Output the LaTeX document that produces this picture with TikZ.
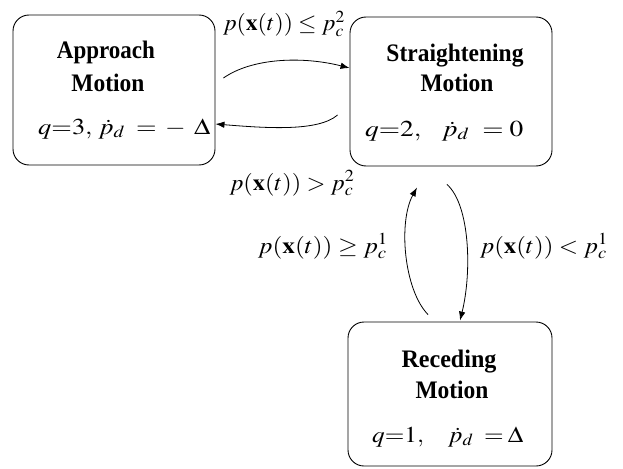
\documentclass[tikz,border=0pt]{standalone}
\usepackage{mathptmx}
\usepackage{fontspec}
\setmainfont{Liberation Serif}
\usetikzlibrary{arrows.meta}

% text set to a given width and stretched 1.2 times in height
\newcommand{\fitbox}[2]{\resizebox{#1}{1.2\height}{#2}}

\tikzset{
  statebox/.style={draw, line width=0.9pt, rounded corners=16pt, inner sep=0pt},
  titletext/.style={anchor=base, inner sep=0pt, font=\fontsize{21}{24}\selectfont\bfseries},
  eqtext/.style={anchor=base west, inner sep=0pt, font=\fontsize{19}{22}\selectfont},
  guard/.style={anchor=base, inner sep=0pt, font=\fontsize{19}{22}\selectfont},
  trans/.style={line width=0.8pt, -{Latex[length=9pt,width=6.5pt]}}
}

\begin{document}
\begin{tikzpicture}[x=1pt, y=-1pt]
  \useasboundingbox (0,0) rectangle (623,468);

  % the three motion states
  \node[statebox, minimum width=202pt, minimum height=150pt] (A) at (114,90) {};
  \node[statebox, minimum width=202pt, minimum height=149pt] (S) at (451,91.5) {};
  \node[statebox, minimum width=204pt, minimum height=144pt] (R) at (450,394) {};

  % state contents
  \node[titletext] (At1) at (106,59) {\fitbox{98pt}{Approach}};
  \node[titletext] (At2) at (108,92) {\fitbox{73pt}{Motion}};
  \node[eqtext] (Aeq) at (38,134) {\fitbox{172pt}{$q{=}3,\hspace{2pt}\dot{p}_d\hspace{8pt}{=}\hspace{6pt}{-}\hspace{6pt}\Delta$}};

  \node[titletext] (St1) at (455,62) {\fitbox{137pt}{Straightening}};
  \node[titletext] (St2) at (457,92) {\fitbox{73pt}{Motion}};
  \node[eqtext] (Seq) at (365,136) {\fitbox{158pt}{$q{=}2,\hspace{12pt}\dot{p}_d\hspace{9pt}{=}\hspace{4pt}0$}};

  \node[titletext] (Rt1) at (449,367) {\fitbox{95pt}{Receding}};
  \node[titletext] (Rt2) at (452,398) {\fitbox{73pt}{Motion}};
  \node[eqtext] (Req) at (372,442) {\fitbox{151pt}{$q{=}1,\hspace{16pt}\dot{p}_d\hspace{8pt}{=}\hspace{3pt}\Delta$}};

  % transition guards
  \node[guard] (g32) at (284,31) {\fitbox{122pt}{$p(\mathbf{x}(t))\le p_c^2$}};
  \node[guard] (g23) at (292,190) {\fitbox{125pt}{$p(\mathbf{x}(t))> p_c^2$}};
  \node[guard] (g12) at (323,253) {\fitbox{130pt}{$p(\mathbf{x}(t))\ge p_c^1$}};
  \node[guard] (g21) at (544,253) {\fitbox{128pt}{$p(\mathbf{x}(t))< p_c^1$}};

  % transitions
  \draw[trans] ([xshift=8pt,yshift=12pt]A.east)
      .. controls (252,58) and (302,56) .. ([yshift=23.5pt]S.west);
  \draw[trans] ([xshift=-12pt,yshift=-23.5pt]S.west)
      .. controls (318,132) and (265,128) .. ([yshift=-34pt]A.east);
  \draw[trans] ([xshift=-22pt,yshift=7pt]R.north)
      .. controls (404,290) and (398,222) .. ([xshift=-34pt,yshift=-21pt]S.south);
  \draw[trans] ([xshift=-4pt,yshift=-18pt]S.south)
      .. controls (470,205) and (472,272) .. ([xshift=10pt,yshift=1pt]R.north);
\end{tikzpicture}
\end{document}
